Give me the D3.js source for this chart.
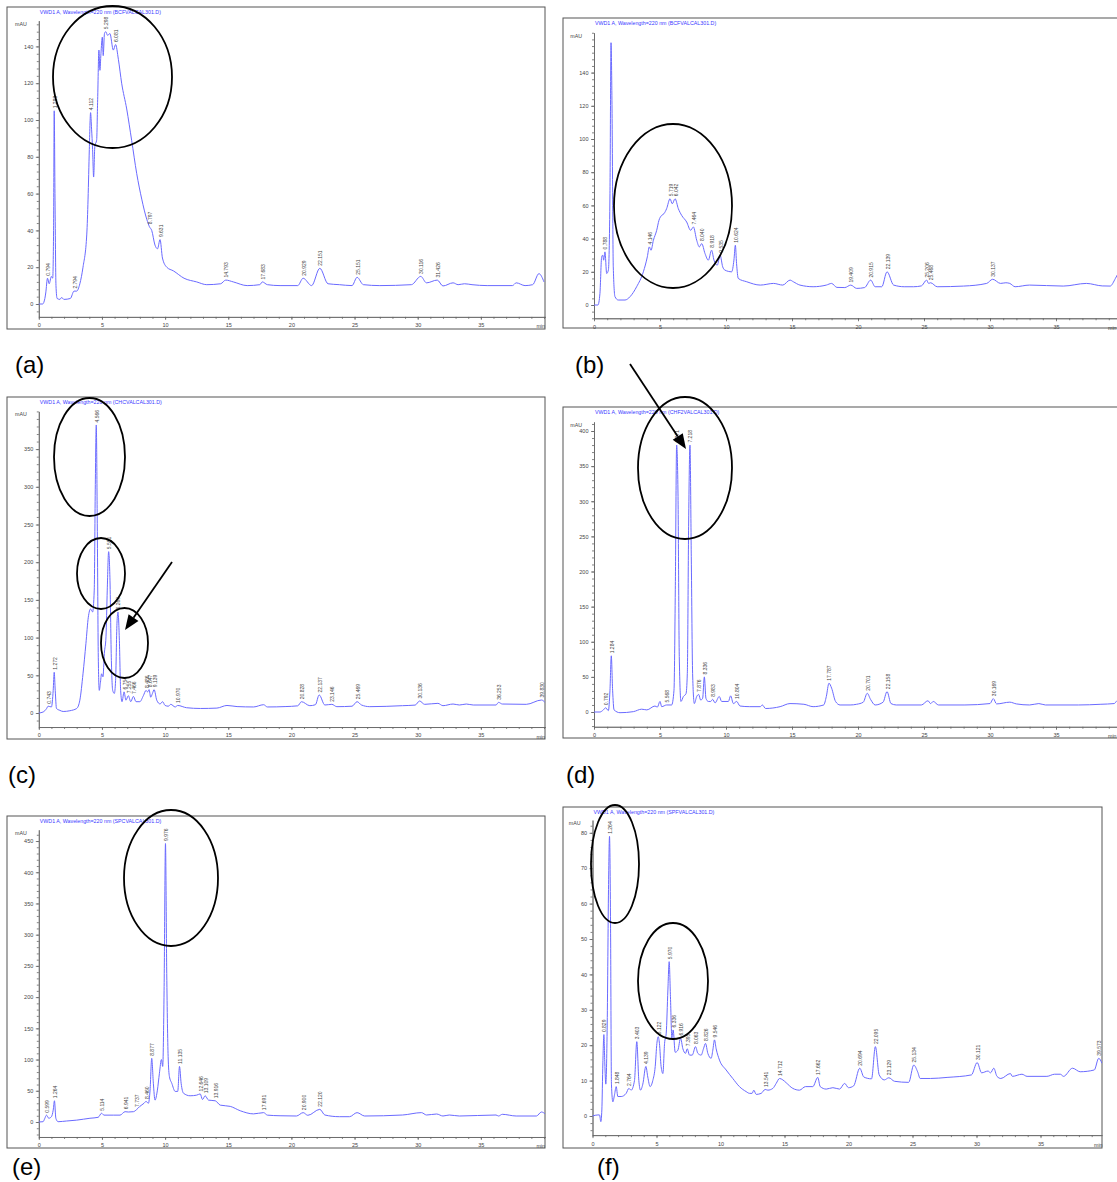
<!DOCTYPE html>
<html><head><meta charset="utf-8">
<script src="https://cdn.jsdelivr.net/npm/d3@7"></script>
<style>body{margin:0;background:#fff} svg{display:block} text{font-family:"Liberation Sans",Arial,sans-serif}</style>
</head><body><svg id="c" width="1117" height="1182" font-family="Liberation Sans, Arial, sans-serif"></svg>
<script>
// ---------------- DATA (time in min, signal in mAU) ----------------
const traceA = [[0,0],[0.3,0],[0.48,3],[0.55,6],[0.69,14],[0.82,11],[1.0,15],[1.1,14],[1.17,40],[1.22,105],[1.28,60],[1.36,10],[1.45,3],[1.67,2.5],[1.8,3.5],[2.0,2.5],[2.5,3],[2.79,7],[3.0,7],[3.25,11],[3.5,20],[3.8,38],[3.9,57],[4.0,84],[4.1,104],[4.18,95],[4.26,84],[4.34,69],[4.44,86],[4.58,89],[4.66,111],[4.76,138],[4.84,127],[4.92,136],[5.03,145],[5.1,135],[5.2,147],[5.3,148],[5.45,146],[5.63,147],[5.9,138],[6.08,141],[6.3,133],[6.56,120],[6.96,106],[7.35,89],[7.75,71],[8.15,57],[8.55,46],[8.76,42],[8.94,40],[9.2,32],[9.4,30],[9.6,35],[9.79,25],[10.13,20],[10.66,18],[11.5,14],[12.5,12],[13.3,10.5],[14.4,11],[14.8,13],[15.4,12],[16.5,10],[17.5,10.5],[17.7,12],[18.1,10.5],[19.1,10],[20.5,10],[20.93,14],[21.6,10],[22.25,19.4],[22.9,11],[23.8,10.5],[24.8,10],[25.2,14.5],[25.7,10.5],[27,10],[29.5,10.5],[30.24,15],[30.7,11.5],[31.55,13],[32.0,9.8],[32.8,11.5],[33.2,10.5],[33.7,11],[34.3,10.5],[35.5,10],[37.5,10],[37.8,11.5],[38.5,10],[39.1,10.5],[39.6,16.5],[40.0,12]];
const peaksA = [[0.69,14,"0.794"],[1.22,105,"1.283"],[2.79,7,"2.794"],[4.1,104,"4.112"],[5.3,148,"5.298"],[6.08,141,"6.081"],[8.76,42,"8.797"],[9.6,35,"9.631"],[14.8,13,"14.793"],[17.7,12,"17.683"],[20.93,14,"20.929"],[22.25,19.4,"22.151"],[25.2,14.5,"25.151"],[30.24,15,"30.116"],[31.55,13,"31.426"]];

const traceB = [[0,0],[0.3,0],[0.45,7],[0.58,29],[0.66,30],[0.73,27],[0.83,32],[0.96,19],[1.09,21],[1.21,67],[1.29,158],[1.36,123],[1.46,23],[1.59,5],[1.84,3],[2.35,3],[2.73,5],[3.23,11],[3.74,20],[4.04,29],[4.19,35],[4.32,33],[4.5,39],[4.75,45],[4.92,51],[5.13,54],[5.3,55],[5.5,58],[5.76,64],[5.93,61],[6.14,64],[6.39,58],[6.64,54],[7.02,50],[7.32,45],[7.53,47],[7.78,39],[7.98,35],[8.16,37],[8.41,31],[8.66,27],[8.91,33],[9.09,27],[9.34,24],[9.55,30],[9.75,23],[9.92,21],[10.43,20],[10.6,27],[10.71,36],[10.8,25],[10.93,16],[11.57,14],[12.6,12],[13.6,13],[14.3,12],[14.85,15],[15.1,14],[15.6,12],[16.6,11],[17.6,12],[18.0,13],[18.4,10.6],[19.0,10.5],[19.45,12],[19.9,10],[20.5,10.5],[20.96,15],[21.3,11],[21.8,11],[22.2,20],[22.7,12],[23.5,11],[24.2,11],[24.8,11.5],[25.2,15],[25.35,13],[25.5,13.4],[26.0,11],[28.0,11.4],[29.75,13],[30.2,15.5],[30.8,13],[31.2,13.4],[31.5,13],[31.9,11],[33.0,12],[35.55,11.4],[37.3,13],[38.5,11.5],[39.1,11.4],[39.5,16],[39.7,19]];
const peaksB = [[0.83,32,"0.788"],[4.19,35,"4.146"],[5.76,64,"5.719"],[6.14,64,"6.042"],[7.53,47,"7.464"],[8.16,37,"8.040"],[8.91,33,"8.918"],[9.55,30,"9.535"],[10.71,36,"10.624"],[19.45,12,"19.409"],[20.96,15,"20.915"],[22.2,20,"22.139"],[25.2,15,"25.206"],[25.5,13.4,"25.468"],[30.2,15.5,"30.137"]];

const traceC = [[0,0],[0.34,1.3],[0.61,5.7],[0.74,9],[1.0,8],[1.14,30],[1.22,54],[1.3,30],[1.4,6],[1.67,3.5],[1.93,2],[2.46,3],[3.0,6],[3.25,17],[3.5,52],[3.73,92],[3.92,127],[4.1,138],[4.26,134],[4.39,163],[4.47,296],[4.55,382],[4.63,251],[4.71,74],[4.79,30],[4.87,39],[4.97,52],[5.08,48],[5.19,79],[5.32,101],[5.42,163],[5.53,214],[5.63,180],[5.74,74],[5.85,30],[5.98,26],[6.08,43],[6.19,119],[6.27,134],[6.38,96],[6.48,30],[6.59,15],[6.75,28],[6.9,17],[7.09,23],[7.28,15],[7.49,22],[7.7,15],[8.0,15],[8.28,23],[8.49,30],[8.62,28],[8.73,31],[8.86,21],[9.0,26],[9.13,31],[9.34,17],[9.6,12],[9.8,15],[10.0,10],[10.26,9],[10.45,11.5],[10.8,8],[11.0,10],[11.7,7],[12.8,6],[14.1,6.5],[14.9,10],[15.7,8.5],[17.0,8],[17.8,11],[18.1,8],[19.5,8.5],[20.5,9.5],[20.8,15],[21.46,9.7],[21.9,11],[22.2,23.9],[22.65,10.6],[23.2,11.5],[23.6,8.4],[24.8,9],[25.2,15],[25.55,10.6],[26.2,8.4],[28.8,9.7],[29.8,10.5],[30.15,15.9],[30.55,11.5],[31.6,12.8],[32.0,9.7],[32.8,11.9],[33.3,10.6],[33.85,11.9],[34.4,10.6],[36.2,10.6],[36.4,14.1],[36.7,11.9],[38.6,11.5],[39.8,17.2],[40.1,13.7]];
const peaksC = [[0.74,9,"0.743"],[1.22,54,"1.272"],[4.55,382,"4.566"],[5.53,214,"5.551"],[6.27,134,"6.269"],[6.75,28,"6.754"],[7.09,23,"7.255"],[7.49,22,"7.466"],[8.49,30,"8.486"],[8.73,31,"8.647"],[9.13,31,"9.139"],[11.0,10,"10.970"],[20.8,15,"20.828"],[22.2,23.9,"22.137"],[23.2,11.5,"23.146"],[25.2,15,"25.469"],[30.15,15.9,"30.136"],[36.4,14.1,"36.253"],[39.8,17.2,"39.830"]];

const traceD = [[0,0],[0.45,0],[0.71,3],[0.88,6],[1.09,2],[1.21,31],[1.31,80],[1.41,31],[1.52,3],[1.97,-1],[2.98,0.5],[3.61,4],[4.0,3],[4.62,8.5],[4.8,7],[5.0,15],[5.13,7.6],[5.5,10],[5.88,10],[6.06,31],[6.16,174],[6.26,380],[6.36,316],[6.46,79],[6.59,15],[6.77,22],[6.97,26],[7.07,55],[7.17,269],[7.27,380],[7.37,221],[7.47,55],[7.6,12],[7.78,22],[7.93,25],[8.08,17],[8.23,19.5],[8.36,50],[8.48,19.5],[8.66,15],[8.84,15],[8.99,18],[9.17,13],[9.49,22],[9.67,15],[10.18,15],[10.35,23],[10.56,12],[10.81,15],[11.06,8.5],[11.8,7.6],[12.6,7.6],[12.75,10],[13.0,5],[14.1,7.6],[14.85,12],[15.9,11],[16.6,7.6],[17.4,10],[17.6,22],[17.8,41],[18.0,34],[18.3,15],[18.64,10],[19.4,10],[19.9,11],[20.4,14],[20.7,26.6],[20.95,18],[21.3,10],[21.9,14],[22.2,29],[22.5,12],[22.9,10],[24.8,10],[25.3,16],[25.5,12],[25.7,15],[26.1,10],[28.1,10],[30.0,12],[30.25,19],[30.5,11.5],[31.5,14],[32.0,11.5],[33.0,10],[33.7,12],[34.2,10],[36.7,10],[38.4,11],[39.4,12],[39.6,16]];
const peaksD = [[0.88,6,"0.792"],[1.31,80,"1.284"],[5.5,10,"5.568"],[6.26,380,"6.271"],[7.27,380,"7.218"],[7.93,25,"7.876"],[8.36,50,"8.336"],[8.99,18,"8.983"],[10.81,15,"10.804"],[17.8,41,"17.787"],[20.7,26.6,"20.701"],[22.2,29,"22.158"],[30.25,19,"30.169"]];

const traceE = [[0,0],[0.34,0.5],[0.48,6],[0.61,11],[0.79,6],[1.0,8.5],[1.14,19],[1.24,34],[1.35,6],[1.53,0.5],[2.2,1.6],[3.0,3],[4.05,6],[4.7,7.5],[4.97,14],[5.16,11],[5.9,11],[6.43,11],[6.83,16.5],[7.09,16],[7.49,16.5],[7.75,20],[8.0,25],[8.33,30],[8.49,33],[8.68,30],[8.81,51],[8.94,102],[9.07,62],[9.2,35],[9.39,51],[9.55,78],[9.71,100],[9.81,89],[9.92,211],[10.03,446],[10.13,238],[10.24,105],[10.34,73],[10.53,62],[10.8,49],[11.0,49],[11.14,89],[11.27,62],[11.46,46],[11.98,42],[12.5,43],[12.78,45],[12.96,36],[13.17,42],[13.44,35],[13.97,34],[14.37,27],[15.16,25],[15.95,18],[17.0,13],[17.8,15],[18.1,11],[19.1,10],[20.4,9.6],[20.93,15],[21.3,10.7],[22.25,20.3],[22.65,11.2],[23.8,8.5],[24.6,8.5],[25.2,15],[25.8,9.6],[28.8,11.2],[30.3,15],[30.7,11.2],[31.5,12.8],[32.0,9.6],[32.5,11.2],[33.3,9.6],[36.2,11.2],[36.4,9.6],[36.7,12.3],[37.8,9.6],[39.4,9.6],[39.8,16],[40.1,12.8]];
const peaksE = [[0.61,11,"0.599"],[1.24,34,"1.264"],[4.97,14,"5.114"],[6.83,16.5,"6.941"],[7.75,20,"7.737"],[8.49,33,"8.460"],[8.94,102,"8.877"],[10.03,446,"9.976"],[11.14,89,"11.135"],[12.78,45,"12.646"],[13.17,42,"13.109"],[13.97,34,"13.916"],[17.8,15,"17.691"],[20.93,15,"20.900"],[22.25,20.3,"22.120"]];

const traceF = [[0,0],[0.42,0.3],[0.55,0.3],[0.65,-1.6],[0.73,1.7],[0.81,15],[0.89,23],[0.96,15],[1.04,9],[1.15,26],[1.25,64],[1.33,79],[1.41,54],[1.48,9],[1.59,4],[1.72,6],[1.85,8.3],[1.98,5.5],[2.24,5.5],[2.63,6.4],[2.84,7.8],[3.02,7.3],[3.28,10],[3.46,21],[3.62,10],[3.75,7.3],[3.93,9],[4.17,14],[4.32,11],[4.5,8.3],[4.71,10],[4.9,14],[5.03,20.5],[5.13,22.4],[5.23,20.5],[5.36,14],[5.5,12],[5.63,20.5],[5.76,23.4],[5.89,35.6],[5.99,43.6],[6.09,33.7],[6.2,22],[6.3,24.3],[6.46,18],[6.67,18.6],[6.88,22],[7.06,19],[7.27,17.7],[7.4,19],[7.58,17.2],[7.79,17.2],[8.05,19.6],[8.23,17.7],[8.49,17.2],[8.67,19],[8.83,20.5],[9.01,17.7],[9.27,16.3],[9.4,18.6],[9.53,21.5],[9.66,19],[9.92,15.8],[10.44,13],[10.96,10.6],[11.48,8.3],[12.0,6.9],[12.27,6.4],[12.47,6.4],[12.6,7.3],[12.79,6.1],[13.18,6.4],[13.49,7.5],[13.7,7.3],[14.09,7.8],[14.35,9.2],[14.61,10.6],[14.87,10.2],[15.13,9.4],[15.65,7.8],[16.17,7.3],[16.64,8.3],[17.21,8.3],[17.6,10.9],[17.79,8.3],[18.26,7.6],[18.78,8],[19.3,7.6],[19.7,9.2],[20.0,8],[20.4,8.5],[20.88,13.5],[21.2,11],[21.8,10.5],[22.1,19.6],[22.4,11.6],[22.8,10.2],[23.15,10.8],[23.6,9.8],[24.7,9.5],[25.1,14.4],[25.4,12.5],[25.6,10.6],[26.4,10.6],[27.7,10.9],[29.6,11.6],[30.05,15.1],[30.4,12.2],[30.9,12.7],[31.1,12.2],[31.35,13.5],[31.6,11.2],[31.9,10.6],[32.65,12],[32.8,11.2],[33.55,11.8],[33.95,11.2],[35.5,11.2],[36.1,11.8],[36.55,11.8],[36.8,11.2],[37.5,13.5],[38.1,12.5],[39.2,13],[39.55,16.3],[39.8,14.9]];
const peaksF = [[0.89,23,"0.829"],[1.33,79,"1.264"],[1.85,8.3,"1.848"],[2.84,7.8,"2.764"],[3.46,21,"3.403"],[4.17,14,"4.139"],[5.13,22.4,"5.122"],[5.99,43.6,"5.970"],[6.3,24.3,"6.336"],[6.88,22,"6.916"],[7.4,19,"7.395"],[8.05,19.6,"8.063"],[8.83,20.5,"8.826"],[9.53,21.5,"9.546"],[13.49,7.5,"13.541"],[14.61,10.6,"14.712"],[17.6,10.9,"17.662"],[20.88,13.5,"20.694"],[22.1,19.6,"22.095"],[23.15,10.8,"23.129"],[25.1,14.4,"25.134"],[30.05,15.1,"30.121"],[39.55,16.3,"39.573"]];

const xTickLabels = ["0","5","10","15","20","25","30","35"];
const titles = {
  a:"VWD1 A, Wavelength=220 nm (BCFVALCAL301.D)",
  b:"VWD1 A, Wavelength=220 nm (BCFVALCAL301.D)",
  c:"VWD1 A, Wavelength=220 nm (CHCVALCAL301.D)",
  d:"VWD1 A, Wavelength=220 nm (CHF2VALCAL301.D)",
  e:"VWD1 A, Wavelength=220 nm (SPCVALCAL301.D)",
  f:"VWD1 A, Wavelength=220 nm (SPFVALCAL301.D)"
};
const yTickValues = {a:[0,20,40,60,80,100,120,140], b:[0,20,40,60,80,100,120,140], c:[0,50,100,150,200,250,300,350], d:[0,50,100,150,200,250,300,350,400], e:[0,50,100,150,200,250,300,350,400,450], f:[0,10,20,30,40,50,60,70,80]};
const panelLetters = {a:"(a)",b:"(b)",c:"(c)",d:"(d)",e:"(e)",f:"(f)"};

// ---------------- LAYOUT ----------------
const FONT = "Liberation Sans, Arial, sans-serif";
const layout = {
  a:{frame:[7,7,545,329], x0:38.8, kx:12.63, tmax:40.1, y0:304, ky:1.84, vmin:-7, vmax:154, minor:4, lab:[15,373]},
  b:{frame:[563,18,1125,328], x0:594, kx:13.2, tmax:40, y0:305, ky:1.66, vmin:-8, vmax:164, minor:4, lab:[575,373]},
  c:{frame:[7,397,545,739], x0:38.8, kx:12.63, tmax:40.1, y0:713, ky:0.754, vmin:-18.6, vmax:400, minor:10, lab:[8,783]},
  d:{frame:[563,407,1125,738], x0:594, kx:13.2, tmax:40, y0:712, ky:0.7025, vmin:-21, vmax:413, minor:10, lab:[566,783]},
  e:{frame:[7,816,545,1148], x0:38.8, kx:12.63, tmax:40.1, y0:1122, ky:0.6244, vmin:-24, vmax:468, minor:10, lab:[12,1175]},
  f:{frame:[563,807,1102,1148], x0:592.5, kx:12.8, tmax:39.8, y0:1116, ky:3.54, vmin:-5.4, vmax:83.6, minor:2, lab:[597,1175]}
};
const data = {a:[traceA,peaksA], b:[traceB,peaksB], c:[traceC,peaksC], d:[traceD,peaksD], e:[traceE,peaksE], f:[traceF,peaksF]};

const svg = d3.select("#c");
const LINE = "#6a6aff";

Object.keys(layout).forEach(k => {
  const L = layout[k], [trace, peaks] = data[k];
  const [fx0, fy0, fx1, fy1] = L.frame;
  const g = svg.append("g").attr("font-family", FONT);
  const x = d3.scaleLinear().domain([0, L.tmax]).range([L.x0, L.x0 + L.kx * L.tmax]);
  const y = d3.scaleLinear().domain([L.vmin, L.vmax]).range([L.y0 - L.ky * L.vmin, L.y0 - L.ky * L.vmax]);

  g.append("rect").attr("x", fx0).attr("y", fy0).attr("width", fx1 - fx0).attr("height", fy1 - fy0)
    .attr("fill", "#fff").attr("stroke", "#555").attr("stroke-width", 1);

  g.append("text").attr("x", L.x0 + 1).attr("y", fy0 + 4.5).attr("dominant-baseline", "central")
    .attr("font-family", FONT).attr("font-size", 5.3).attr("fill", "#3a3aff").text(titles[k]);

  // y axis
  const yMinor = d3.range(Math.ceil(L.vmin / L.minor) * L.minor, L.vmax + 0.001, L.minor);
  const ya = g.append("g").attr("transform", `translate(${L.x0},0)`)
    .call(d3.axisLeft(y).tickValues(yMinor).tickSize(2).tickFormat("").tickSizeOuter(0));
  const yb = g.append("g").attr("transform", `translate(${L.x0},0)`)
    .call(d3.axisLeft(y).tickValues(yTickValues[k]).tickSize(3).tickPadding(2.5).tickSizeOuter(0));
  [ya, yb].forEach(s => { s.attr("font-family", FONT); s.selectAll("path,line").attr("stroke", "#666").attr("stroke-width", 0.8); s.selectAll("text").attr("font-size", 5.5).attr("fill", "#444").attr("font-family", FONT); });
  g.append("text").attr("x", L.x0 - 12).attr("y", y(L.vmax) + 3).attr("text-anchor", "end").attr("dominant-baseline", "central")
    .attr("font-family", FONT).attr("font-size", 5.3).attr("fill", "#444").text("mAU");

  // x axis
  const xAxisY = y(L.vmin);
  const xMinor = d3.range(0, L.tmax + 0.001, 1);
  const xa = g.append("g").attr("transform", `translate(0,${xAxisY})`)
    .call(d3.axisBottom(x).tickValues(xMinor).tickSize(2).tickFormat("").tickSizeOuter(0));
  const xb = g.append("g").attr("transform", `translate(0,${xAxisY})`)
    .call(d3.axisBottom(x).tickValues(xTickLabels.map(Number)).tickSize(3).tickPadding(3.5).tickFormat((d,i) => xTickLabels[i]).tickSizeOuter(0));
  [xa, xb].forEach(s => { s.attr("font-family", FONT); s.selectAll("path,line").attr("stroke", "#666").attr("stroke-width", 0.8); s.selectAll("text").attr("font-size", 5.5).attr("fill", "#444").attr("font-family", FONT); });
  g.append("text").attr("x", Math.min(x(39.4), fx1 - 8, 1108)).attr("y", xAxisY + 9.5).attr("dominant-baseline", "central")
    .attr("font-family", FONT).attr("font-size", 5.3).attr("fill", "#444").text("min");

  // trace
  const clipId = "clip" + k;
  g.append("clipPath").attr("id", clipId).append("rect").attr("x", fx0).attr("y", fy0).attr("width", fx1 - fx0).attr("height", fy1 - fy0);
  g.append("path").datum(trace).attr("clip-path", `url(#${clipId})`)
    .attr("d", d3.line().x(d => x(d[0])).y(d => y(d[1])).curve(d3.curveMonotoneX))
    .attr("fill", "none").attr("stroke", LINE).attr("stroke-width", 1);

  // peak labels
  g.selectAll("text.pk").data(peaks).join("text").attr("class", "pk")
    .attr("transform", d => `translate(${x(d[0]) + 0.5},${y(d[1]) - 2.5}) rotate(-90)`)
    .attr("dominant-baseline", "central").attr("font-family", FONT).attr("font-size", 5).attr("fill", "#444").text(d => d[2]);

  // panel letter
  svg.append("text").attr("x", L.lab[0]).attr("y", L.lab[1]).attr("font-family", FONT).attr("font-size", 24).attr("fill", "#000").text(panelLetters[k]);
});

// ---------------- ANNOTATIONS ----------------
const ellipses = [[112.5,77,59.5,71],[673,206,59,82],[89.5,457,35.5,59],[101,573.5,24,35.5],[124.5,643,23.5,35],[685,468,47,71],[171,878,47,68],[615,864,24,59],[673,981,35,58]];
svg.selectAll("ellipse.ann").data(ellipses).join("ellipse").attr("class","ann")
  .attr("cx", d => d[0]).attr("cy", d => d[1]).attr("rx", d => d[2]).attr("ry", d => d[3])
  .attr("fill", "none").attr("stroke", "#000").attr("stroke-width", 1.8);

const arrows = [[172,562,125,630],[630,364,686,449]];
arrows.forEach(a => {
  const [x1,y1,x2,y2] = a;
  const ang = Math.atan2(y2 - y1, x2 - x1), len = 15, w = 6;
  const bx = x2 - len * Math.cos(ang), by = y2 - len * Math.sin(ang);
  svg.append("line").attr("x1", x1).attr("y1", y1).attr("x2", bx).attr("y2", by).attr("stroke", "#000").attr("stroke-width", 1.8);
  const px = -Math.sin(ang) * w, py = Math.cos(ang) * w;
  svg.append("path").attr("d", `M${x2},${y2}L${bx + px},${by + py}L${bx - px},${by - py}Z`).attr("fill", "#000");
});
</script></body></html>
